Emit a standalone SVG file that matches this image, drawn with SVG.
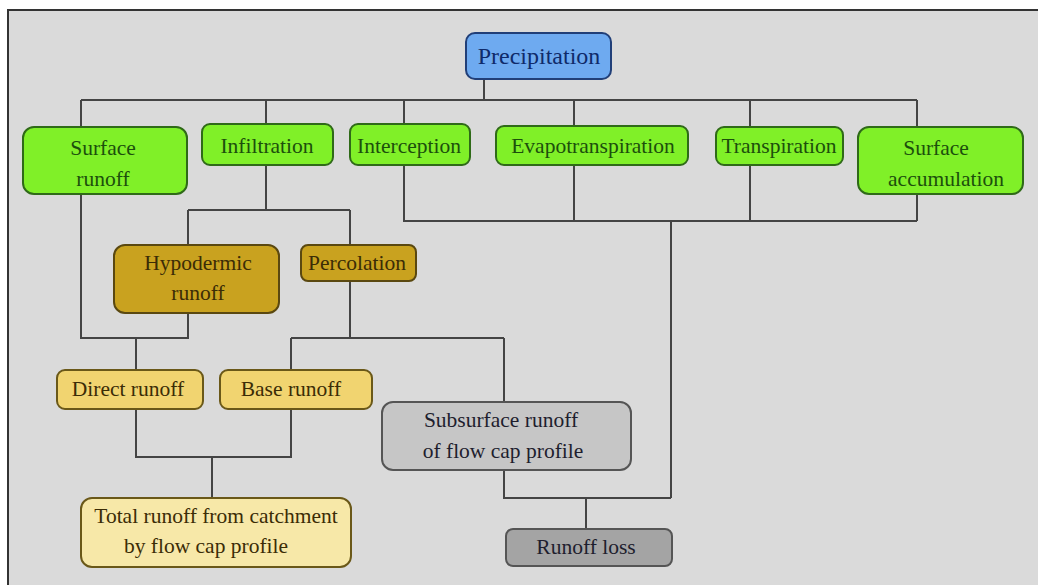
<svg xmlns="http://www.w3.org/2000/svg" width="1038" height="585" viewBox="0 0 1038 585">
<style>
text{font-size:21.5px;text-anchor:middle}
.box{stroke-width:2}
.green{fill:#80f028;stroke:#2f6a18}
.green-t{fill:#1c4f0c}
.blue{fill:#6eaaf0;stroke:#213f78}
.gold{fill:#c9a21f;stroke:#5a4810}
.gold-t{fill:#3b2c06}
.yel{fill:#f1d470;stroke:#6a5818}
.lyel{fill:#f7e8a8;stroke:#6a5818}
.gray{fill:#c6c6c6;stroke:#555}
.dgray{fill:#a4a4a4;stroke:#555}
.dark-t{fill:#1e1e2e}
#connectors path{fill:none;stroke:#444;stroke-width:2}
</style>
<rect x="0" y="0" width="1038" height="585" fill="#ffffff"/>
<rect x="8" y="10" width="1040" height="600" fill="#dadada" stroke="#333" stroke-width="2"/>
<g id="connectors">
<path d="M484 79V100M81 100H917M81 100V127M266 100V124M404 100V124M574 100V126M750 100V127M917 100V127"/>
<path d="M404 165V221H917M574 165V221M750 165V221M917 194V221M671 221V498"/>
<path d="M266 165V210M188 210H350M188 210V245M350 210V245"/>
<path d="M81 194V338H188V313M136 338V370"/>
<path d="M350 281V338M291 338H504M291 338V370M504 338V402"/>
<path d="M136 409V457H291V409M212 457V498"/>
<path d="M504 470V498H671M586 498V529"/>
</g>
<g font-family="Liberation Serif, DejaVu Serif, Times New Roman, serif">
<g id="precipitation"><rect class="box blue" x="466" y="33" width="145" height="46" rx="9"/><text x="539" y="64" fill="#0f2a6a" style="font-size:24px">Precipitation</text></g>
<g id="surface-runoff"><rect class="box green" x="23" y="127" width="164" height="67" rx="11"/><text class="green-t" x="103" y="155">Surface</text><text class="green-t" x="103" y="186">runoff</text></g>
<g id="infiltration"><rect class="box green" x="202" y="124" width="131" height="41" rx="8"/><text class="green-t" x="267" y="153">Infiltration</text></g>
<g id="interception"><rect class="box green" x="350" y="124" width="120" height="41" rx="8"/><text class="green-t" x="409" y="153">Interception</text></g>
<g id="evapotranspiration"><rect class="box green" x="496" y="126" width="192" height="39" rx="8"/><text class="green-t" x="593" y="153">Evapotranspiration</text></g>
<g id="transpiration"><rect class="box green" x="716" y="127" width="127" height="38" rx="8"/><text class="green-t" x="779" y="153">Transpiration</text></g>
<g id="surface-accumulation"><rect class="box green" x="858" y="127" width="165" height="67" rx="11"/><text class="green-t" x="936" y="155">Surface</text><text class="green-t" x="946" y="186">accumulation</text></g>
<g id="hypodermic-runoff"><rect class="box gold" x="114" y="245" width="165" height="68" rx="11"/><text class="gold-t" x="198" y="270">Hypodermic</text><text class="gold-t" x="198" y="300">runoff</text></g>
<g id="percolation"><rect class="box gold" x="301" y="245" width="115" height="36" rx="7"/><text class="gold-t" x="357" y="270">Percolation</text></g>
<g id="direct-runoff"><rect class="box yel" x="57" y="370" width="146" height="39" rx="8"/><text class="gold-t" x="128" y="396">Direct runoff</text></g>
<g id="base-runoff"><rect class="box yel" x="220" y="370" width="152" height="39" rx="8"/><text class="gold-t" x="291" y="396">Base runoff</text></g>
<g id="subsurface-runoff"><rect class="box gray" x="382" y="402" width="249" height="68" rx="11"/><text class="dark-t" x="501" y="427">Subsurface runoff</text><text class="dark-t" x="503" y="458">of flow cap profile</text></g>
<g id="total-runoff"><rect class="box lyel" x="81" y="498" width="270" height="69" rx="11"/><text class="gold-t" x="216" y="523">Total runoff from catchment</text><text class="gold-t" x="206" y="553">by flow cap profile</text></g>
<g id="runoff-loss"><rect class="box dgray" x="506" y="529" width="166" height="37" rx="7"/><text class="dark-t" x="586" y="554">Runoff loss</text></g>
</g>
</svg>
